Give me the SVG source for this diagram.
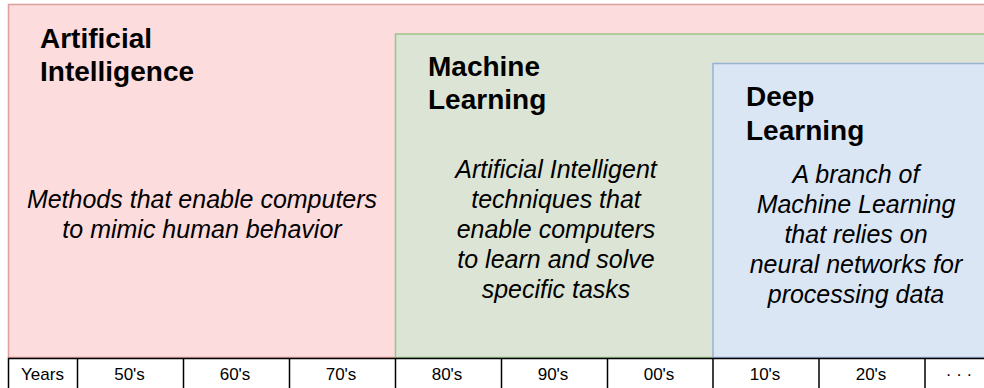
<svg xmlns="http://www.w3.org/2000/svg" width="984" height="388" viewBox="0 0 984 388">
<style>
.title{font-family:"Liberation Sans",Arial,sans-serif;font-size:28px;font-weight:bold;fill:#000}
.body{font-family:"Liberation Sans",Arial,sans-serif;font-size:25px;font-style:italic;fill:#000;text-anchor:middle}
.cell{font-family:"Liberation Sans",Arial,sans-serif;font-size:17px;fill:#000;text-anchor:middle}
.grid{stroke:#000;stroke-width:1.5;fill:none}
</style>
<rect width="984" height="388" fill="#ffffff"/>
<g id="ai">
<rect x="8.5" y="4.5" width="990" height="353" fill="#fcdcdd" stroke="#dc9f9c" stroke-width="1.5"/>
<text class="title" x="40" y="47.5">Artificial</text>
<text class="title" x="40" y="81">Intelligence</text>
<text class="body" x="202" y="208">Methods that enable computers</text>
<text class="body" x="202" y="238">to mimic human behavior</text>
</g>
<g id="ml">
<rect x="395.5" y="34" width="600" height="323.5" fill="#dce5d5" stroke="#9dc388" stroke-width="1.5"/>
<text class="title" x="428" y="75.5">Machine</text>
<text class="title" x="428" y="109">Learning</text>
<text class="body" x="556" y="177.5">Artificial Intelligent</text>
<text class="body" x="556" y="207.5">techniques that</text>
<text class="body" x="556" y="237.5">enable computers</text>
<text class="body" x="556" y="267.5">to learn and solve</text>
<text class="body" x="556" y="297.5">specific tasks</text>
</g>
<g id="dl">
<rect x="713" y="63.5" width="300" height="294" fill="#dae6f4" stroke="#98b1d6" stroke-width="1.5"/>
<text class="title" x="746" y="106">Deep</text>
<text class="title" x="746" y="139.5">Learning</text>
<text class="body" x="856" y="182.5">A branch of</text>
<text class="body" x="856" y="212.5">Machine Learning</text>
<text class="body" x="856" y="242.5">that relies on</text>
<text class="body" x="856" y="272.5">neural networks for</text>
<text class="body" x="856" y="302.5">processing data</text>
</g>
<g id="timeline">
<rect x="8.5" y="358.5" width="1000" height="40" fill="#ffffff" class="grid"/>
<path class="grid" d="M77.5 358.5V390M183.5 358.5V390M289.5 358.5V390M395.5 358.5V390M501.5 358.5V390M607.5 358.5V390M713 358.5V390M819 358.5V390M925 358.5V390"/>
<text class="cell" x="42.5" y="380">Years</text>
<text class="cell" x="129.5" y="380">50's</text>
<text class="cell" x="235" y="380">60's</text>
<text class="cell" x="341" y="380">70's</text>
<text class="cell" x="447" y="380">80's</text>
<text class="cell" x="553" y="380">90's</text>
<text class="cell" x="659" y="380">00's</text>
<text class="cell" x="765" y="380">10's</text>
<text class="cell" x="871" y="380">20's</text>
<text class="cell" x="959" y="380">· · ·</text>
</g>
<g id="connectors"></g>
</svg>
